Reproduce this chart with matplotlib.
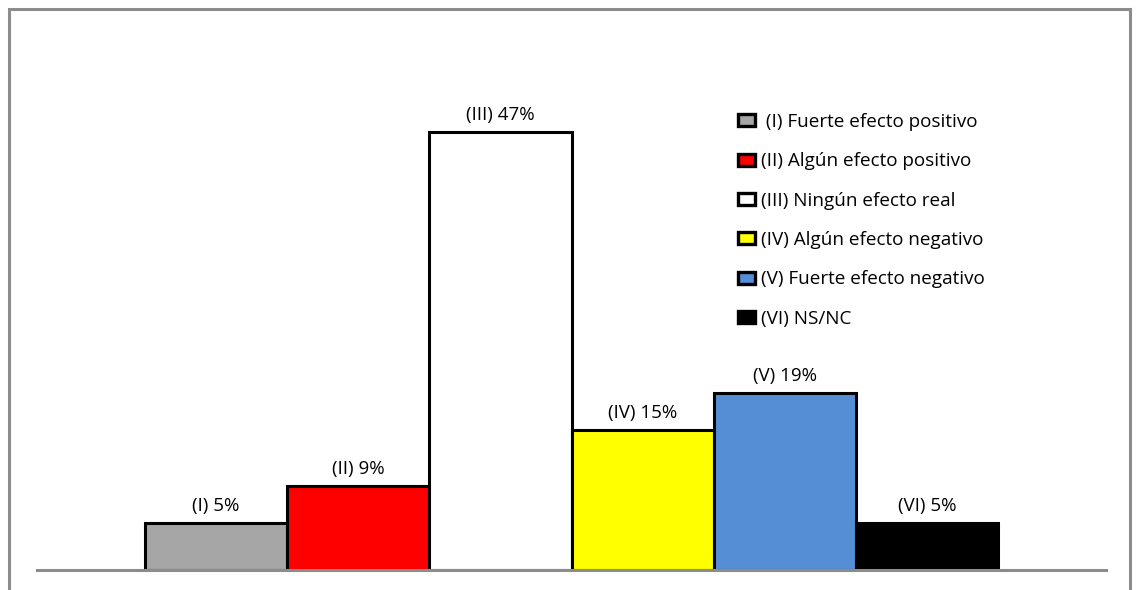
import matplotlib
matplotlib.use("Agg")
import matplotlib.pyplot as plt
from matplotlib.patches import Rectangle, Patch

categories = ["(I)", "(II)", "(III)", "(IV)", "(V)", "(VI)"]
values = [5, 9, 47, 15, 19, 5]
legend_labels = [
    " (I) Fuerte efecto positivo",
    "(II) Algún efecto positivo",
    "(III) Ningún efecto real",
    "(IV) Algún efecto negativo",
    "(V) Fuerte efecto negativo",
    "(VI) NS/NC",
]
colors = ["#A6A6A6", "#FF0000", "#FFFFFF", "#FFFF00", "#558ED5", "#000000"]

GRID = "#8C8C8C"

plt.rcParams["font.family"] = ["Open Sans", "DejaVu Sans"]

fig = plt.figure(figsize=(11.36, 5.90), dpi=100)
W, H = 1136, 590

# outer chart border (bottom edge is cut off in the original)
fig.patches.append(Rectangle((8.5 / W, -0.05), (1130 - 8.5) / W, (H - 8.5) / H + 0.05,
                             transform=fig.transFigure, fill=False,
                             edgecolor=GRID, linewidth=2.2))

ax = fig.add_axes([37 / W, 20 / H, 1069 / W, 466 / H])
x = range(len(values))
ax.bar(x, values, width=1.0, color=colors, edgecolor="#000000", linewidth=2.2, zorder=2)
for i, v in enumerate(values):
    ax.annotate(f"{categories[i]} {v}%", (i, v), textcoords="offset points",
                xytext=(0, 6), ha="center", va="bottom", fontsize=13.5)

ax.set_xlim(-1.2595, 6.2595)
ax.set_ylim(0, 50)
ax.axhline(0, color=GRID, linewidth=2.2, zorder=3, clip_on=False)
for s in ax.spines.values():
    s.set_visible(False)
ax.set_xticks([])
ax.set_yticks([])

handles = [Patch(facecolor=c, edgecolor="#000000", linewidth=2.4) for c in colors]
ax.legend(handles, legend_labels, loc="upper left", bbox_to_anchor=(738 / W, 1 - 113 / H),
          bbox_transform=fig.transFigure, frameon=False, fontsize=13.6,
          handlelength=0.9, handleheight=0.58, handletextpad=0.32, labelspacing=1.13,
          borderpad=0, borderaxespad=0)

fig.savefig("out.png", dpi=100)
